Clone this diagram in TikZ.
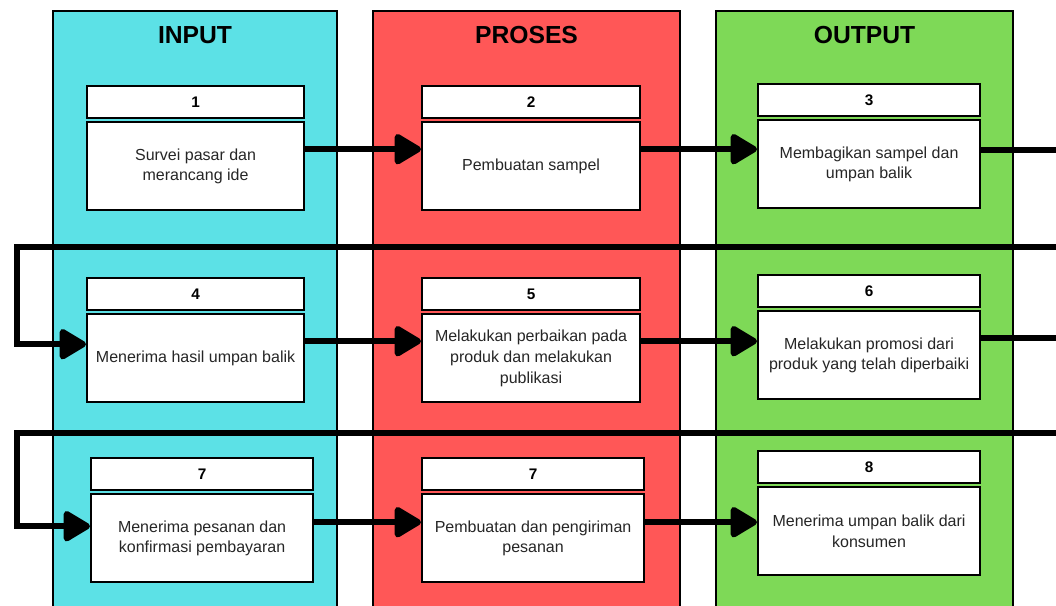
\documentclass[tikz,border=0pt]{standalone}
\usepackage{fontspec}
\setmainfont{Liberation Sans}
\usepackage{tikz}
\usetikzlibrary{arrows.meta, positioning}

\definecolor{incyan}{HTML}{5CE1E6}
\definecolor{prored}{HTML}{FF5757}
\definecolor{outgreen}{HTML}{7ED957}
\definecolor{txtgray}{HTML}{262626}

\begin{document}
\begin{tikzpicture}[
	x=0.75pt, y=-0.75pt,
	node distance=1.5pt,
	column/.style={rectangle, draw, line width=1.5pt, anchor=north west, minimum width=#1, minimum height=457.5pt, inner sep=0pt},
	title/.style={font=\fontsize{18.5}{22}\selectfont\bfseries},
	numhead/.style={rectangle, draw, fill=white, line width=1.6pt, anchor=north west, minimum width=#1, minimum height=24pt, inner sep=0pt, font=\fontsize{11.5}{14}\selectfont\bfseries},
	stepbody/.style={rectangle, draw, fill=white, line width=1.6pt, minimum width=#1, minimum height=66pt, inner sep=1pt, align=center, text=txtgray, font=\fontsize{12}{15.5}\selectfont},
	flow/.style={line width=4.5pt, -{Triangle[length=22pt, width=25pt, round]}}
	]

	\useasboundingbox (0,0) rectangle (1056,606);
	\clip (0,0) rectangle (1056,606);

	% Columns
	\node (colin) [column=213pt, fill=incyan] at (52,10) {};
	\node (colpro) [column=230.25pt, fill=prored] at (372,10) {};
	\node (colout) [column=222.75pt, fill=outgreen] at (715,10) {};
	\node (tin) [title] at ([yshift=-18.75pt]colin.north) {INPUT};
	\node (tpro) [title] at ([yshift=-18.75pt]colpro.north) {PROSES};
	\node (tout) [title] at ([yshift=-18.75pt]colout.north) {OUTPUT};

	% Row 1
	\node (h1) [numhead=162.75pt] at (86,85) {1};
	\node (b1) [stepbody=162.75pt, below=of h1] {Survei pasar dan\\merancang ide};
	\node (h2) [numhead=163.5pt] at (421,85) {2};
	\node (b2) [stepbody=163.5pt, below=of h2] {Pembuatan sampel};
	\node (h3) [numhead=166.5pt] at (757,83) {3};
	\node (b3) [stepbody=166.5pt, below=of h3] {Membagikan sampel dan\\umpan balik};

	% Row 2
	\node (h4) [numhead=162.75pt] at (86,277) {4};
	\node (b4) [stepbody=162.75pt, below=of h4] {Menerima hasil umpan balik};
	\node (h5) [numhead=163.5pt] at (421,277) {5};
	\node (b5) [stepbody=163.5pt, below=of h5] {Melakukan perbaikan pada\\produk dan melakukan\\publikasi};
	\node (h6) [numhead=166.5pt] at (757,274) {6};
	\node (b6) [stepbody=166.5pt, below=of h6] {Melakukan promosi dari\\produk yang telah diperbaiki};

	% Row 3
	\node (h7) [numhead=166.5pt] at (90,457) {7};
	\node (b7) [stepbody=166.5pt, below=of h7] {Menerima pesanan dan\\konfirmasi pembayaran};
	\node (h8) [numhead=166.5pt] at (421,457) {7};
	\node (b8) [stepbody=166.5pt, below=of h8] {Pembuatan dan pengiriman\\pesanan};
	\node (h9) [numhead=166.5pt] at (757,450) {8};
	\node (b9) [stepbody=166.5pt, below=of h9] {Menerima umpan balik dari\\konsumen};

	% Turn points
	\coordinate (r1) at (1075,247);
	\coordinate (l1) at (17,247);
	\coordinate (r2) at (1075,433);
	\coordinate (l2) at (17,433);

	% Arrows
	\draw[flow] ([yshift=12.75pt]b1.east) -- ([yshift=12.75pt]b1.east -| b2.west);
	\draw[flow] ([yshift=12.75pt]b2.east) -- ([yshift=12.75pt]b2.east -| b3.west);
	\draw[flow] ([yshift=10.5pt]b3.east) -| (r1) -- (l1) |- ([yshift=10.5pt]b4.west);
	\draw[flow] ([yshift=12.75pt]b4.east) -- ([yshift=12.75pt]b4.east -| b5.west);
	\draw[flow] ([yshift=12.75pt]b5.east) -- ([yshift=12.75pt]b5.east -| b6.west);
	\draw[flow] ([yshift=12.75pt]b6.east) -| (r2) -- (l2) |- ([yshift=9pt]b7.west);
	\draw[flow] ([yshift=12pt]b7.east) -- ([yshift=12pt]b7.east -| b8.west);
	\draw[flow] ([yshift=12pt]b8.east) -- ([yshift=12pt]b8.east -| b9.west);

\end{tikzpicture}
\end{document}
